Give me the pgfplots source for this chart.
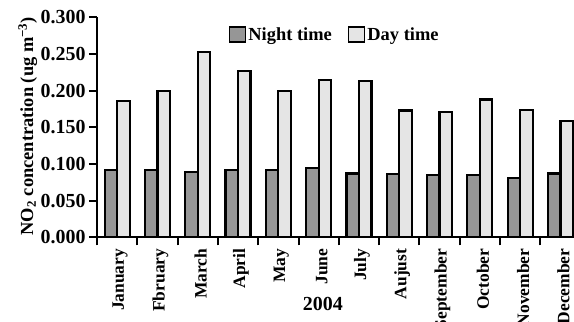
\documentclass[border=0pt]{standalone}
\usepackage{pgfplots}
\pgfplotsset{compat=1.18}
\usepackage{fontspec}
\setmainfont{Liberation Serif}
\definecolor{nightgray}{RGB}{150,150,150}
\definecolor{daygray}{RGB}{229,229,229}
\newcommand\lf{\fontsize{18.5}{20}\selectfont\bfseries}
\newcommand\tf{\fontsize{20}{22}\selectfont\bfseries}
\newcommand\mf{\fontsize{17.5}{19}\selectfont\bfseries}
\begin{document}
\begin{tikzpicture}
\begin{axis}[
  scale only axis, width=483.6bp, height=220bp,
  xmin=0, xmax=12, ymin=0, ymax=0.3,
  axis x line*=bottom, axis y line*=left,
  axis line style={line width=2.2bp, -},
  tick align=outside,
  major tick length=8bp,
  tick style={line width=2bp, black},
  ytick={0,0.05,0.1,0.15,0.2,0.25,0.3},
  yticklabel style={font=\tf, /pgf/number format/fixed, /pgf/number format/fixed zerofill, /pgf/number format/precision=3, /pgf/number format/assume math mode=true},
  xtick={0,1,2,3,4,5,6,7,8,9,10,11,12},
  xticklabels={},
  extra x ticks={0.5,1.5,2.5,3.5,4.5,5.5,6.5,7.5,8.5,9.5,10.5,11.5},
  extra x tick labels={January,Fbruary,March,April,May,June,July,Aujust,September,October,November,December},
  extra x tick style={tick style={draw=none}, xticklabel style={xshift=3bp, rotate=90, anchor=east, font=\mf}},
  xlabel={2004},
  xlabel style={font=\fontsize{20}{22}\selectfont\bfseries, at={(axis description cs:0.467,-0.3045)}, anchor=center},
  ylabel={NO\textsubscript{2} concentration (ug m\textsuperscript{−3})},
  ylabel style={font=\lf, at={(axis description cs:-0.143,0.505)}, anchor=center},
  legend columns=2,
  legend style={draw=none, fill=none, font=\lf, at={(axis description cs:0.266,0.92)}, anchor=west,
    /tikz/every even column/.append style={column sep=14bp}},
]
\addplot[ybar, bar width=0.31, bar shift=-0.155, fill=nightgray, draw=black, line width=2.2bp,
  legend image code/.code={\draw[fill=nightgray, draw=black, line width=1.6bp] (0bp,-7bp) rectangle (16bp,8bp);}]
  coordinates {(0.5,0.092) (1.5,0.092) (2.5,0.089) (3.5,0.092) (4.5,0.092) (5.5,0.0945) (6.5,0.087) (7.5,0.086) (8.5,0.085) (9.5,0.085) (10.5,0.081) (11.5,0.087)};
\addlegendentry{Night time}
\addplot[ybar, bar width=0.31, bar shift=0.155, fill=daygray, draw=black, line width=2.2bp,
  legend image code/.code={\draw[fill=daygray, draw=black, line width=1.6bp] (0bp,-7bp) rectangle (16bp,8bp);}]
  coordinates {(0.5,0.186) (1.5,0.199) (2.5,0.253) (3.5,0.227) (4.5,0.199) (5.5,0.215) (6.5,0.213) (7.5,0.173) (8.5,0.171) (9.5,0.188) (10.5,0.174) (11.5,0.159)};
\addlegendentry{Day time}
\end{axis}
\pgfresetboundingbox
\useasboundingbox (-97bp,-84.7bp) rectangle (477bp,237.3bp);
\end{tikzpicture}
\end{document}
